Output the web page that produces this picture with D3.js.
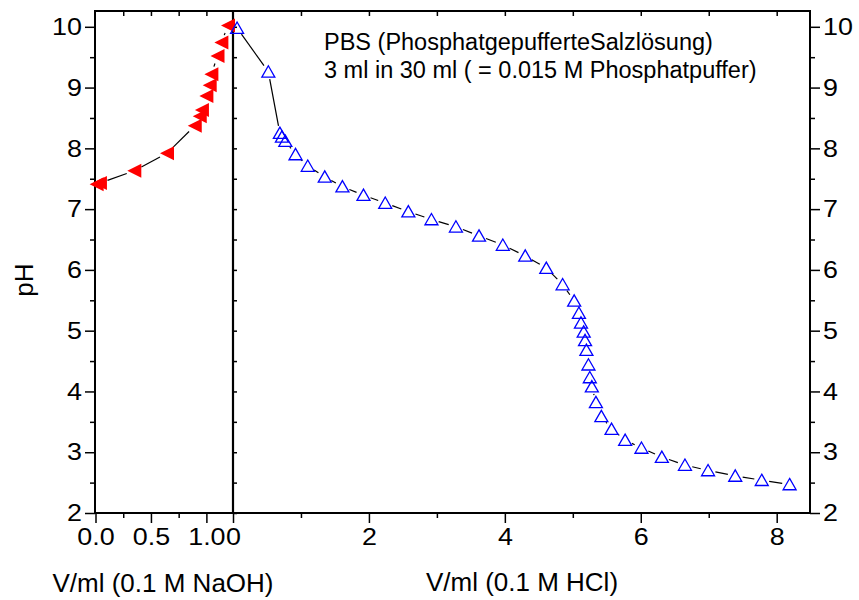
<!DOCTYPE html>
<html lang="de">
<head>
<meta charset="utf-8">
<title>PBS Titration</title>
<script src="https://d3js.org/d3.v7.min.js"></script>
<style>
  body { margin: 0; background: #fff; }
  text { font-family: "Liberation Sans", Arial, sans-serif; fill: #000; }
  .tick text { font-size: 24px; }
  .lbl { font-size: 26px; }
  .note { font-size: 23.5px; }
</style>
</head>
<body>
<div id="chart"></div>
<script>
// NaOH titration (left panel)
var naohV  = [0.01, 0.04, 0.35, 0.645, 0.895, 0.94, 0.96, 1.0, 1.03, 1.045, 1.10, 1.135, 1.195];
var naohPH = [7.41, 7.43, 7.63, 7.92, 8.37, 8.53, 8.63, 8.86, 9.04, 9.22, 9.52, 9.74, 10.02];

// HCl titration (right panel)
var hclV  = [0.06, 0.52, 0.69, 0.72, 0.77, 0.92, 1.10, 1.35, 1.61, 1.92, 2.24, 2.58, 2.92, 3.28,
             3.62, 3.97, 4.30, 4.61, 4.85, 5.02, 5.09, 5.12, 5.16, 5.18, 5.20, 5.23, 5.25, 5.28,
             5.34, 5.42, 5.57, 5.77, 6.01, 6.31, 6.65, 6.99, 7.39, 7.78, 8.19];
var hclPH = [9.98, 9.26, 8.25, 8.19, 8.12, 7.90, 7.71, 7.53, 7.37, 7.23, 7.10, 6.96, 6.83, 6.71,
             6.56, 6.41, 6.23, 6.03, 5.76, 5.49, 5.29, 5.13, 4.98, 4.84, 4.68, 4.44, 4.23, 4.08,
             3.82, 3.59, 3.38, 3.20, 3.07, 2.92, 2.79, 2.70, 2.61, 2.54, 2.47];

var yTicks = [2, 3, 4, 5, 6, 7, 8, 9, 10];
var yMinor = [2.5, 3.5, 4.5, 5.5, 6.5, 7.5, 8.5, 9.5];
var naohTicks = [0, 0.5, 1.0];
var naohMinor = [0.25, 0.75];
var hclTicks = [0, 2, 4, 6, 8];
var hclMinor = [1, 3, 5, 7];

var W = 859, H = 600;
var pL = 95, pR = 810, pT = 11, pB = 513, pS = 233;
var stretch = 1.12; // tick labels are drawn a bit wide in the original

var svg = d3.select("#chart").append("svg")
  .attr("width", W).attr("height", H);

var xN = d3.scaleLinear().domain([0, 1.24]).range([pL + 0.5, pS]);
var xH = d3.scaleLinear().domain([0, 8.49]).range([pS, pR]);
var y  = d3.scaleLinear().domain([2, 10.26]).range([pB, pT]);

function ax(axis, tx, ty) {
  var g = svg.append("g").attr("transform", "translate(" + tx + "," + ty + ")").call(axis);
  g.select(".domain").remove();
  g.selectAll(".tick line").attr("stroke-width", 1.5);
  g.selectAll(".tick text").each(function() {
    var t = d3.select(this), x0 = +t.attr("x") || 0;
    t.attr("x", x0 / stretch).attr("transform", "scale(" + stretch + ",1)");
  });
  return g;
}

// y axes, left and right
ax(d3.axisLeft(y).tickValues(yTicks).tickSize(10).tickPadding(3).tickFormat(d3.format("d")), pL, 0);
ax(d3.axisLeft(y).tickValues(yMinor).tickSize(5).tickFormat(""), pL, 0);
ax(d3.axisRight(y).tickValues(yTicks).tickSize(10).tickPadding(3).tickFormat(d3.format("d")), pR, 0);
ax(d3.axisRight(y).tickValues(yMinor).tickSize(5).tickFormat(""), pR, 0);
// small ticks on the separating line
ax(d3.axisRight(y).tickValues(yMinor.concat(yTicks)).tickSize(4).tickFormat(""), pS, 0);

// bottom axes
ax(d3.axisBottom(xN).tickValues(naohTicks).tickSize(10).tickPadding(5).tickFormat(d3.format(".1f")), 0, pB);
ax(d3.axisBottom(xN).tickValues(naohMinor).tickSize(5).tickFormat(""), 0, pB);
ax(d3.axisBottom(xH).tickValues(hclTicks).tickSize(10).tickPadding(5).tickFormat(d3.format("d")), 0, pB);
ax(d3.axisBottom(xH).tickValues(hclMinor).tickSize(5).tickFormat(""), 0, pB);

// top inward ticks
ax(d3.axisTop(xN).tickValues(naohMinor.concat([0.5, 1.0])).tickSize(-5).tickFormat(""), 0, pT);
ax(d3.axisTop(xH).tickValues(hclMinor.concat([2, 4, 6, 8])).tickSize(-5).tickFormat(""), 0, pT);

// frame and separator
svg.append("rect")
  .attr("x", pL).attr("y", pT)
  .attr("width", pR - pL).attr("height", pB - pT)
  .attr("fill", "none").attr("stroke", "#000").attr("stroke-width", 2);
svg.append("line")
  .attr("x1", pS).attr("x2", pS).attr("y1", pT).attr("y2", pB)
  .attr("stroke", "#000").attr("stroke-width", 2.2);

// connecting lines with gaps at the markers
function gapLine(xs, ys, xscale, gap) {
  var pts = xs.map(function(v, i) { return [xscale(v), y(ys[i])]; });
  for (var i = 0; i < pts.length - 1; i++) {
    var a = pts[i], b = pts[i + 1];
    var dx = b[0] - a[0], dy = b[1] - a[1];
    var len = Math.sqrt(dx * dx + dy * dy);
    if (len <= 2 * gap) continue;
    var ux = dx / len, uy = dy / len;
    svg.append("line")
      .attr("x1", a[0] + ux * gap).attr("y1", a[1] + uy * gap)
      .attr("x2", b[0] - ux * gap).attr("y2", b[1] - uy * gap)
      .attr("stroke", "#000").attr("stroke-width", 1.2);
  }
}
gapLine(naohV, naohPH, xN, 8);
gapLine(hclV, hclPH, xH, 7.5);

// markers
svg.append("g").selectAll("path")
  .data(naohV.map(function(v, i) { return [v, naohPH[i]]; }))
  .join("path")
  .attr("transform", function(d) { return "translate(" + xN(d[0]) + "," + y(d[1]) + ")"; })
  .attr("d", "M-7,0L7,-7L7,7Z")
  .attr("fill", "#ff0000");

svg.append("g").selectAll("path")
  .data(hclV.map(function(v, i) { return [v, hclPH[i]]; }))
  .join("path")
  .attr("transform", function(d) { return "translate(" + xH(d[0]) + "," + y(d[1]) + ")"; })
  .attr("d", "M0,-6L6.5,5.3L-6.5,5.3Z")
  .attr("fill", "none")
  .attr("stroke", "#0000ff")
  .attr("stroke-width", 1.3);

// labels
svg.append("text").attr("class", "lbl")
  .attr("transform", "translate(33,280) rotate(-90)")
  .attr("text-anchor", "middle").text("pH");
svg.append("text").attr("class", "lbl")
  .attr("x", 163).attr("y", 592).attr("text-anchor", "middle")
  .text("V/ml (0.1 M NaOH)");
svg.append("text").attr("class", "lbl")
  .attr("x", 522).attr("y", 591).attr("text-anchor", "middle")
  .text("V/ml (0.1 M HCl)");

svg.append("text").attr("class", "note")
  .attr("x", 324).attr("y", 50)
  .text("PBS (PhosphatgepufferteSalzlösung)");
svg.append("text").attr("class", "note")
  .attr("x", 324).attr("y", 78)
  .text("3 ml in 30 ml ( = 0.015 M Phosphatpuffer)");
</script>
</body>
</html>
